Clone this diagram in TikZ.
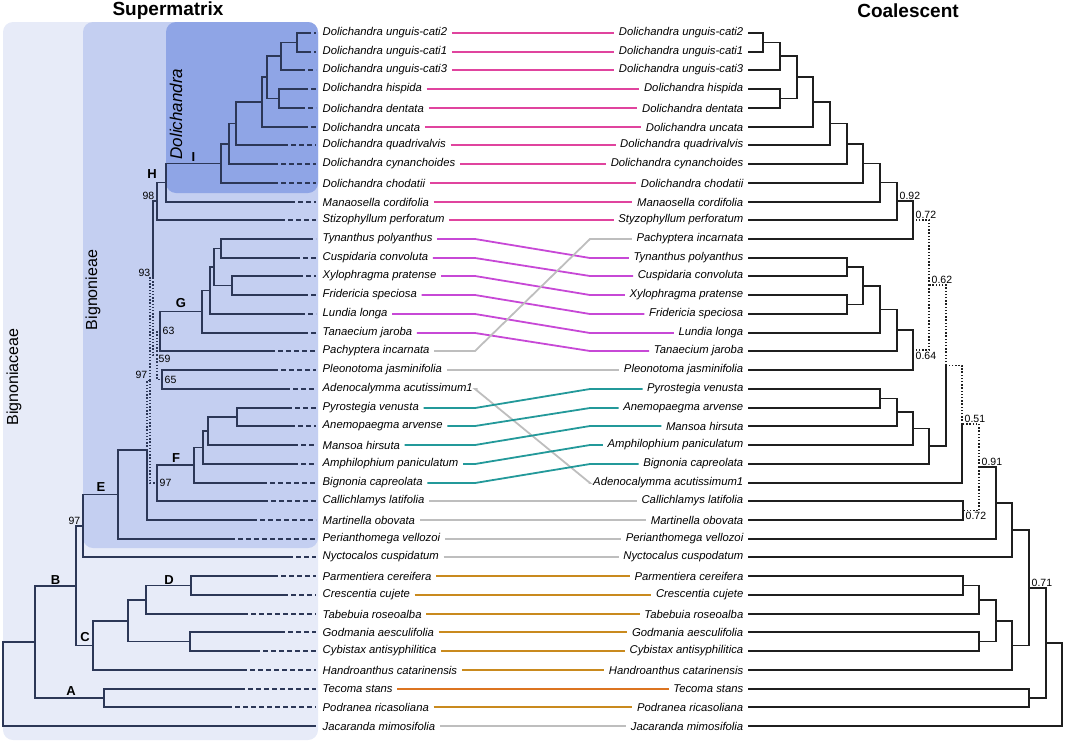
\documentclass[tikz,border=0pt]{standalone}
\usepackage{fontspec}
\setmainfont{Liberation Sans}
\definecolor{navy}{HTML}{2C3757}
\definecolor{familybox}{HTML}{E7EBF8}
\definecolor{tribebox}{HTML}{C4CFF1}
\definecolor{genusbox}{HTML}{8FA5E6}
\definecolor{pinkln}{HTML}{E0449E}
\definecolor{violetln}{HTML}{C748D6}
\definecolor{tealln}{HTML}{23999A}
\definecolor{greyln}{HTML}{BEBEBE}
\definecolor{ochreln}{HTML}{C98A1E}
\definecolor{orangeln}{HTML}{DC7420}
\tikzset{
	taxon/.style={font=\fontsize{11.3}{13}\selectfont\itshape, inner sep=1.5pt},
	support/.style={font=\fontsize{10.5}{12}\selectfont, inner sep=0.5pt},
	clade/.style={font=\fontsize{13}{15}\selectfont\bfseries, inner sep=0pt},
	heading/.style={font=\fontsize{19}{22}\selectfont\bfseries},
	grouplabel/.style={font=\fontsize{16}{18}\selectfont, rotate=90, inner sep=0pt},
	lbranch/.style={draw=navy, line width=1.6pt},
	rbranch/.style={draw=black!88, line width=1.4pt},
	lowsupport/.style={dash pattern=on 1.4pt off 1.8pt},
	tipdash/.style={draw=navy, line width=1.6pt, dash pattern=on 5pt off 3pt},
	link/.style={line width=1.8pt}
}
\begin{document}
\begin{tikzpicture}[x=1pt, y=-1pt]
	\useasboundingbox (0,0) rectangle (1065,742);
	\fill[familybox, rounded corners=10pt] (3,22) rectangle (318,740);
	\fill[tribebox, rounded corners=10pt] (83,22) rectangle (318,548);
	\fill[genusbox, rounded corners=10pt] (166,22) rectangle (318,193);
	\node[heading] (supermatrix) at (168,11) {Supermatrix};
	\node[heading] (coalescent) at (908,11) {Coalescent};
	\node[grouplabel] (bignoniaceae) at (14,377) {Bignoniaceae};
	\node[grouplabel] (bignonieae) at (93,290) {Bignonieae};
	\node[grouplabel, font=\fontsize{17}{19}\selectfont\itshape] (dolichandra) at (176,114) {Dolichandra};

	\foreach \i/\sx/\t in {1/306/Dolichandra unguis-cati2, 2/306/Dolichandra unguis-cati1,
		3/300/Dolichandra unguis-cati3, 4/303/Dolichandra hispida, 5/300/Dolichandra dentata,
		6/303/Dolichandra uncata, 7/283/Dolichandra quadrivalvis, 8/273/Dolichandra cynanchoides,
		9/273/Dolichandra chodatii, 10/290/Manaosella cordifolia, 11/280/Stizophyllum perforatum,
		12/308/Tynanthus polyanthus, 13/295/Cuspidaria convoluta, 14/298/Xylophragma pratense,
		15/303/Fridericia speciosa, 16/300/Lundia longa, 17/303/Tanaecium jaroba,
		18/270/Pachyptera incarnata, 19/273/Pleonotoma jasminifolia, 20/285/Adenocalymma acutissimum1,
		21/287/Pyrostegia venusta, 22/290/Anemopaegma arvense, 23/293/Mansoa hirsuta,
		24/293/Amphilophium paniculatum, 25/262/Bignonia capreolata, 26/263/Callichlamys latifolia,
		27/252/Martinella obovata, 28/230/Perianthomega vellozoi, 29/288/Nyctocalos cuspidatum,
		30/273/Parmentiera cereifera, 31/283/Crescentia cujete, 32/243/Tabebuia roseoalba,
		33/280/Godmania aesculifolia, 34/255/Cybistax antisyphilitica, 35/242/Handroanthus catarinensis,
		36/240/Tecoma stans, 37/227/Podranea ricasoliana, 38/316/Jacaranda mimosifolia} {
		\pgfmathsetmacro\yy{round(33+18.73*(\i-1))}
		\node[taxon, anchor=west] (L\i) at (321,\yy) {\t};
		\coordinate (Ls\i) at (\sx,\yy);
		\draw[tipdash] (Ls\i) -- ([xshift=-5pt]L\i.west);
	}

	\foreach \i/\t in {1/Dolichandra unguis-cati2, 2/Dolichandra unguis-cati1, 3/Dolichandra unguis-cati3,
		4/Dolichandra hispida, 5/Dolichandra dentata, 6/Dolichandra uncata, 7/Dolichandra quadrivalvis,
		8/Dolichandra cynanchoides, 9/Dolichandra chodatii, 10/Manaosella cordifolia,
		11/Styzophyllum perforatum, 12/Pachyptera incarnata, 13/Tynanthus polyanthus,
		14/Cuspidaria convoluta, 15/Xylophragma pratense, 16/Fridericia speciosa, 17/Lundia longa,
		18/Tanaecium jaroba, 19/Pleonotoma jasminifolia, 20/Pyrostegia venusta, 21/Anemopaegma arvense,
		22/Mansoa hirsuta, 23/Amphilophium paniculatum, 24/Bignonia capreolata,
		25/Adenocalymma acutissimum1, 26/Callichlamys latifolia, 27/Martinella obovata,
		28/Perianthomega vellozoi, 29/Nyctocalus cuspodatum, 30/Parmentiera cereifera,
		31/Crescentia cujete, 32/Tabebuia roseoalba, 33/Godmania aesculifolia,
		34/Cybistax antisyphilitica, 35/Handroanthus catarinensis, 36/Tecoma stans,
		37/Podranea ricasoliana, 38/Jacaranda mimosifolia} {
		\pgfmathsetmacro\yy{round(33+18.73*(\i-1))}
		\node[taxon, anchor=east] (R\i) at (745,\yy) {\t};
		\coordinate (Rt\i) at (748,\yy);
	}

	\foreach \n/\x/\y in {a12/297/42.5, a123/281/56, a45/279/98.5, a15/267/77, a16/262/102,
		a17/236/123.5, a18/229/144, nI/221/163.5, nH/166/182.5, n98/157/201,
		g12/221/248.5, g34/232/285.5, g14/214/267, g15/210/290.5, g16/202/311.5, nG/160/331,
		n65/162/379.5, n59/157/355, n93/153/278, f12/237/417, f13/208/431, f14/203/447.5,
		f15/194/465, nF/157/483, n97a/150/380.5, nMart/147/450, nE/118/494.5, n97b/83/526,
		d12/191/585.5, nD/146/600, c45/190/641.5, c15/128/621, nC/93/645.5, nB/76/586,
		nA/104/698, nBA/35/642, lroot/3/684}
		\coordinate (\n) at (\x,\y);

	\foreach \p/\c in {a12/Ls1, a12/Ls2, a123/a12, a123/Ls3, a45/Ls4, a45/Ls5, a15/a123, a15/a45,
		a16/a15, a16/Ls6, a17/a16, a17/Ls7, a18/a17, a18/Ls8, nI/a18, nI/Ls9, nH/nI, nH/Ls10,
		n98/nH, n98/Ls11, n93/n98, g12/Ls12, g12/Ls13, g34/Ls14, g34/Ls15, g14/g12, g14/g34,
		g15/g14, g15/Ls16, g16/g15, g16/Ls17, nG/g16, nG/Ls18, n65/Ls19, n65/Ls20,
		f12/Ls21, f12/Ls22, f13/f12, f13/Ls23, f14/f13, f14/Ls24, f15/f14, f15/Ls25, nF/f15, nF/Ls26,
		nMart/Ls27, nE/nMart, nE/Ls28, n97b/nE, n97b/Ls29, d12/Ls30, d12/Ls31, nD/d12, nD/Ls32,
		c45/Ls33, c45/Ls34, c15/nD, c15/c45, nC/c15, nC/Ls35, nB/n97b, nB/nC, nA/Ls36, nA/Ls37,
		nBA/nB, nBA/nA, lroot/nBA, lroot/Ls38}
		\draw[lbranch] (\p) |- (\c);
	\foreach \p/\c in {n93/n59, n59/nG, n59/n65, n97a/n93, n97a/nF, nMart/n97a}
		\draw[lbranch, lowsupport] (\p) |- (\c);

	\foreach \n/\t in {n98/98, n93/93, n97a/97, n97b/97}
		\node[support, anchor=south east] (s\n) at ([shift={(-2,-1)}]\n) {\t};
	\foreach \n/\t in {nG/63, n65/65, nF/97}
		\node[support, anchor=west] (s\n) at ([xshift=2pt]\n) {\t};
	\node[support, anchor=north west] (sn59) at ([shift={(1,-0.5)}]n59) {59};
	\foreach \n/\t/\x/\y in {labI/I/193.5/157, labH/H/152/174, labG/G/181/303, labF/F/176/458,
		labE/E/101/487, labB/B/55.5/580, labC/C/85/637, labD/D/169/580, labA/A/71/691}
		\node[clade] (\n) at (\x,\y) {\t};

	\foreach \n/\x/\y in {r12/763/42.5, r123/780/56, r45/780/98.5, r15/797/77, r16/813/102,
		r17/830/123.5, r18/847/144, r19/863/163.5, r110/880/182.5, n092/897/201,
		n072a/913/220, t12/847/267, t34/847/304.5, t14/863/286, t15/880/309.5,
		t16/897/330, n064/913/350, n062/929/285, p12/880/398.5, p13/897/412,
		p14/913/428.5, p15/929/446, nX/946/365.5, n051/962/424, n072b/963/510.5,
		n091/979/467, nPer/996/503, nNyc/1012/530, q12/963/585.5, q13/979/600,
		q45/979/641.5, q15/996/621, q16/1012/645.5, n071/1029/588, tp/1029/698,
		n1046/1046/643, rroot/1062/684.5}
		\coordinate (\n) at (\x,\y);

	\foreach \p/\c in {r12/Rt1, r12/Rt2, r123/r12, r123/Rt3, r45/Rt4, r45/Rt5, r15/r123, r15/r45,
		r16/r15, r16/Rt6, r17/r16, r17/Rt7, r18/r17, r18/Rt8, r19/r18, r19/Rt9, r110/r19, r110/Rt10,
		n092/r110, n092/Rt11, n072a/n092, n072a/Rt12, t12/Rt13, t12/Rt14, t34/Rt15, t34/Rt16,
		t14/t12, t14/t34, t15/t14, t15/Rt17, t16/t15, t16/Rt18, n064/t16, n064/Rt19,
		p12/Rt20, p12/Rt21, p13/p12, p13/Rt22, p14/p13, p14/Rt23, p15/p14, p15/Rt24, nX/p15,
		n051/Rt25, n072b/Rt26, n072b/Rt27, nPer/n091, nPer/Rt28, nNyc/nPer, nNyc/Rt29,
		q12/Rt30, q12/Rt31, q13/q12, q13/Rt32, q45/Rt33, q45/Rt34, q15/q13, q15/q45, q16/q15, q16/Rt35,
		n071/nNyc, n071/q16, tp/Rt36, tp/Rt37, n1046/n071, n1046/tp, rroot/n1046, rroot/Rt38}
		\draw[rbranch] (\p) |- (\c);
	\foreach \p/\c in {n062/n072a, n062/n064, nX/n062, n051/nX, n091/n051, n091/n072b}
		\draw[rbranch, lowsupport] (\p) |- (\c);

	\foreach \n/\t in {n092/0.92, n072a/0.72, n062/0.62, n051/0.51, n091/0.91, n071/0.71}
		\node[support, anchor=south west] (s\n) at ([shift={(2,-1)}]\n) {\t};
	\foreach \n/\t in {n064/0.64, n072b/0.72}
		\node[support, anchor=north west] (s\n) at ([shift={(2,1)}]\n) {\t};

	\foreach \a/\b/\c in {1/1/pinkln, 2/2/pinkln, 3/3/pinkln, 4/4/pinkln, 5/5/pinkln, 6/6/pinkln,
		7/7/pinkln, 8/8/pinkln, 9/9/pinkln, 10/10/pinkln, 11/11/pinkln, 12/13/violetln,
		13/14/violetln, 14/15/violetln, 15/16/violetln, 16/17/violetln, 17/18/violetln,
		18/12/greyln, 19/19/greyln, 20/25/greyln, 21/20/tealln, 22/21/tealln, 23/22/tealln,
		24/23/tealln, 25/24/tealln, 26/26/greyln, 27/27/greyln, 28/28/greyln, 29/29/greyln,
		30/30/ochreln, 31/31/ochreln, 32/32/ochreln, 33/33/ochreln, 34/34/ochreln, 35/35/ochreln,
		36/36/orangeln, 37/37/ochreln, 38/38/greyln}
		\draw[link, \c] ([xshift=3pt]L\a.east) -- (L\a.east -| 475,0) -- (R\b.west -| 590,0)
			-- ([xshift=-3pt]R\b.west);
\end{tikzpicture}
\end{document}
